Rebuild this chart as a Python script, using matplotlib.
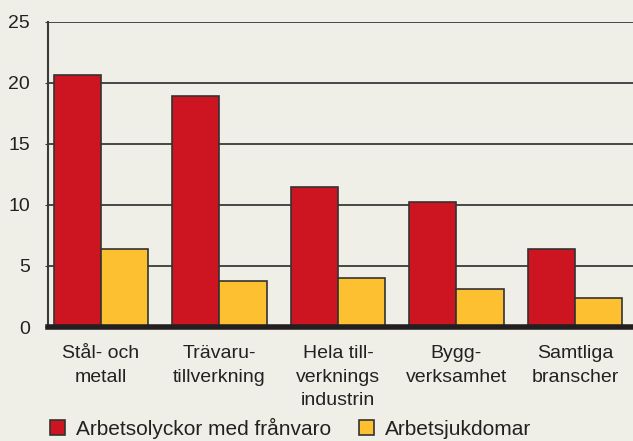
import matplotlib
matplotlib.use('agg')
import matplotlib.pyplot as plt
import matplotlib.patches as mpatches
import numpy as np

categories = ['Stål- och\nmetall', 'Trävaru-\ntillverkning', 'Hela till-\nverknings\nindustrin',
              'Bygg-\nverksamhet', 'Samtliga\nbranscher']
olyckor = [20.6, 18.9, 11.5, 10.2, 6.4]
sjukdomar = [6.4, 3.8, 4.0, 3.1, 2.4]
series_names = ['Arbetsolyckor med frånvaro', 'Arbetsjukdomar']

bg = '#f0efe7'
red = '#cc1520'
yellow = '#fdc030'
edge = '#333333'

plt.rcParams['font.family'] = ['Liberation Sans', 'DejaVu Sans']

fig = plt.figure(figsize=(6.33, 4.41), dpi=100, facecolor=bg)
ax = fig.add_axes([48 / 633, 1 - 327 / 441, 1 - 48 / 633, (327 - 21.7) / 441])
ax.set_facecolor(bg)

x = np.arange(len(categories))
w = 0.4
ax.bar(x - w / 2, olyckor, w, color=red, edgecolor=edge, linewidth=1.2, zorder=3)
ax.bar(x + w / 2, sjukdomar, w, color=yellow, edgecolor=edge, linewidth=1.2, zorder=3)

ax.set_xlim(-0.447, 4.49)
ax.set_ylim(0, 25)
ax.set_yticks([0, 5, 10, 15, 20, 25])
for yv in [5, 10, 15, 20, 25]:
    ax.axhline(yv, color='#3a3a3a', linewidth=1.3, zorder=1)

ax.set_xticks(x)
ax.set_xticklabels(categories, fontsize=14, linespacing=1.5, color='#222222')
ax.tick_params(axis='x', length=0, pad=13)
ax.tick_params(axis='y', length=2, pad=11, labelsize=14, colors='#222222',
               color='#3a3a3a')

for k in ['top', 'right']:
    ax.spines[k].set_visible(False)
ax.spines['left'].set_color('#3a3a3a')
ax.spines['left'].set_linewidth(1.5)
ax.spines['bottom'].set_color('#231f20')
ax.spines['bottom'].set_linewidth(4)
ax.spines['bottom'].set_zorder(4)

handles = [mpatches.Patch(facecolor=red, edgecolor=edge, linewidth=1.2),
           mpatches.Patch(facecolor=yellow, edgecolor=edge, linewidth=1.2)]
fig.legend(handles, series_names, loc='lower left', bbox_to_anchor=(0.049, -0.037),
           ncol=2, frameon=False, fontsize=15, handlelength=0.75, handleheight=0.75,
           handletextpad=0.5, columnspacing=1.34, labelcolor='#222222')

fig.savefig('out.png', dpi=100, facecolor=bg)
